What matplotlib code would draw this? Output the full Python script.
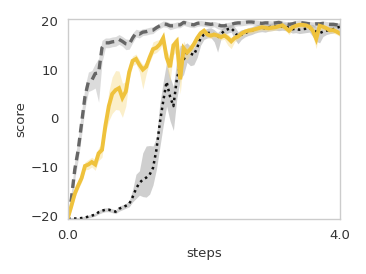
import numpy as np
import matplotlib
matplotlib.use("Agg")
import matplotlib.pyplot as plt

steps = [round(0.05 * i, 2) for i in range(81)]

dashed_mean = [-20, -16.5, -10.5, -6.5, -1, 4.5, 7.5, 7.8, 9.2, 9.3,
               14.5, 15.5, 15.5, 15.7, 15.8, 16.2, 15.8, 15.3, 15.2, 16.5,
               17.5, 17.3, 17.7, 17.8, 18.0, 18.1, 18.6, 19.0, 19.4, 19.3,
               19.0, 19.0, 19.2, 19.2, 19.7, 19.5, 19.3, 19.2, 19.5, 19.6,
               19.5, 19.4, 19.3, 19.4, 19.2, 19.0, 19.0, 19.2, 19.3, 19.5,
               19.6, 19.6, 19.7, 19.8, 19.8, 19.7, 19.6, 19.5, 19.6, 19.6,
               19.5, 19.6, 19.7, 19.5, 19.4, 19.3, 19.4, 19.6, 19.7, 19.6,
               19.5, 19.4, 19.3, 19.4, 19.4, 19.5, 19.4, 19.3, 19.3, 19.2, 19.1]
dashed_below = [0.5, 1.5, 2, 2, 2.5, 2.5, 2, 2, 3, 6,
                3, 1, 1, 1, 1, 1, 1, 1.2, 1, 1,
                0.8, 0.8, 0.7, 0.7, 0.7, 0.7, 0.6, 0.6, 0.6, 0.6,
                0.8, 0.6, 0.6, 0.6, 0.6, 0.6, 0.6, 0.6, 0.6, 0.6,
                0.6, 0.6, 0.6, 0.6, 0.8, 0.8, 0.6, 0.6, 0.6, 0.6,
                0.6, 0.6, 0.6, 0.6, 0.6, 0.6, 0.6, 0.6, 0.6, 0.6,
                0.6, 0.6, 0.6, 0.6, 0.6, 0.6, 0.6, 0.6, 0.6, 0.6,
                0.6, 0.6, 0.6, 0.6, 0.6, 0.6, 0.6, 0.6, 0.6, 0.6, 0.6]
dashed_above = [0.5, 1.5, 2, 2.5, 2.5, 2, 2, 2, 2, 3,
                1.5, 1, 1, 1, 1, 1, 1, 1, 1, 1,
                0.8, 0.8, 0.7, 0.7, 0.7, 0.7, 0.6, 0.6, 0.6, 0.6,
                0.6, 0.6, 0.6, 0.6, 0.5, 0.5, 0.5, 0.5, 0.5, 0.5,
                0.5, 0.5, 0.5, 0.5, 0.5, 0.5, 0.5, 0.5, 0.5, 0.5,
                0.5, 0.5, 0.5, 0.5, 0.5, 0.5, 0.5, 0.5, 0.5, 0.5,
                0.5, 0.5, 0.5, 0.5, 0.5, 0.5, 0.5, 0.5, 0.5, 0.5,
                0.5, 0.5, 0.5, 0.5, 0.5, 0.5, 0.5, 0.5, 0.5, 0.5, 0.5]

solid_mean = [-20.4, -18, -15.5, -13.8, -12.3, -9.8, -9.5, -9.0, -9.5, -7.2,
              -6.5, -1.5, 2.5, 5, 5.8, 6.2, 4.2, 5.5, 9.5, 11.8,
              12.2, 11, 10, 10.6, 12.5, 14.2, 14.5, 15.2, 16.5, 12.5,
              10.5, 15, 15.8, 8, 14.4, 13.5, 14.2, 15.2, 16.5, 17.5,
              18, 17.2, 17, 17.2, 17, 16.7, 17.0, 16.5, 15.8, 16.5,
              16.8, 17.4, 17.8, 18, 18.1, 18.3, 18.5, 18.7, 18.6, 18.5,
              18.6, 18.7, 18.9, 19.1, 18.6, 18.0, 18.7, 19.0, 19.2, 19.2,
              19.1, 18.8, 18.0, 16.3, 19.0, 18.8, 18.5, 18.1, 18.1, 17.8, 17.4]
solid_below = [0.3, 0.8, 0.8, 0.8, 0.8, 0.8, 1, 1, 1.2, 1.5,
               1.5, 1.5, 3, 4, 4, 4.5, 4, 3, 1.5, 1,
               1, 1.5, 4, 1.5, 1, 1, 1, 1, 1, 2,
               3, 2, 2, 3, 2, 1.5, 1, 0.8, 0.8, 0.6,
               0.6, 0.6, 0.6, 0.6, 0.6, 0.6, 0.8, 1.5, 1.5, 0.8,
               0.6, 0.6, 0.6, 0.6, 0.6, 0.6, 0.6, 0.6, 0.6, 0.6,
               0.6, 0.6, 0.6, 0.6, 0.6, 0.8, 0.6, 0.6, 0.6, 0.6,
               0.6, 0.6, 1, 2, 0.8, 0.6, 0.6, 0.6, 0.6, 0.6, 0.6]
solid_above = [0.3, 0.8, 0.8, 0.8, 0.8, 0.8, 1, 1, 1, 1.2,
               1.2, 1.5, 3, 3.5, 4, 3.5, 3, 2, 1.5, 1,
               1, 1, 1, 1, 1, 1.5, 1.5, 1, 1, 1.5,
               2, 1, 1, 4, 1.5, 1, 1, 0.8, 0.8, 0.6,
               0.6, 0.6, 0.6, 0.6, 0.6, 0.6, 0.6, 0.8, 0.8, 0.6,
               0.6, 0.6, 0.6, 0.6, 0.6, 0.6, 0.6, 0.6, 0.6, 0.6,
               0.6, 0.6, 0.6, 0.6, 0.6, 0.6, 0.6, 0.6, 0.6, 0.6,
               0.6, 0.6, 0.8, 1.5, 0.6, 0.6, 0.6, 0.6, 0.6, 0.6, 0.6]

dotted_mean = [-20.6, -20.6, -20.6, -20.6, -20.5, -20.4, -20.2, -20, -19.8, -19.3,
               -19, -18.8, -18.8, -19, -19.2, -18.6, -18.3, -18, -17.6, -16.2,
               -14.5, -13.3, -12.6, -12.2, -11.6, -10.2, -6.5, -1, 3.5, 7.5,
               4.5, 2.5, 8, 11, 12, 13.5, 13.3, 13, 14.5, 16.5,
               17.2, 17.5, 17.6, 17.2, 16.6, 17.3, 18, 18.3, 18.5, 17.8,
               16.8, 17.2, 17.5, 17.8, 18, 18.3, 18.5, 18.6, 18.5, 18.7,
               18.8, 18.9, 18.8, 18.9, 18.8, 18.6, 18.3, 18.4, 18.2, 18.3,
               18.4, 18.5, 18.3, 17.8, 17.5, 17.8, 18.0, 18.2, 18.3, 18.6, 18.8]
dotted_below = [0.2, 0.2, 0.2, 0.2, 0.2, 0.3, 0.3, 0.3, 0.3, 0.4,
                0.4, 0.4, 0.4, 0.4, 0.4, 0.5, 0.5, 0.5, 0.6, 1,
                2, 2.5, 3.5, 4, 4, 3.5, 4, 5, 5, 5,
                5, 5, 4, 3, 3, 2, 2.5, 2, 2, 1.5,
                1, 1, 1, 1.5, 3, 1, 0.8, 0.8, 0.8, 1.5,
                1.5, 1, 0.8, 0.8, 0.8, 0.8, 0.8, 0.8, 0.8, 0.8,
                0.8, 0.8, 0.8, 0.8, 0.8, 0.8, 0.8, 0.8, 0.8, 0.8,
                0.8, 0.8, 1.5, 2, 2, 1, 0.8, 0.8, 0.8, 0.8, 0.8]
dotted_above = [0.2, 0.2, 0.2, 0.2, 0.2, 0.3, 0.3, 0.3, 0.3, 0.4,
                0.4, 0.4, 0.4, 0.4, 0.4, 0.5, 0.5, 0.5, 0.6, 1.5,
                3, 2.5, 5.5, 6.5, 6, 4.5, 2.5, 4, 4, 4,
                4, 4, 4, 4, 3, 2, 1.5, 1.5, 1.5, 1,
                1, 1, 1, 1, 1, 1, 0.8, 0.8, 0.8, 1,
                1, 1, 0.8, 0.8, 0.8, 0.8, 0.8, 0.8, 0.8, 0.8,
                0.8, 0.8, 0.8, 0.8, 0.8, 0.8, 0.8, 0.8, 0.8, 0.8,
                0.8, 0.8, 1, 1, 1, 0.8, 0.8, 0.8, 0.8, 0.8, 0.8]

y_ticks = [-20, -10, 0, 10, 20]
x_ticks = [0.0, 4.0]

x = np.array(steps)
fig = plt.figure(figsize=(3.66, 2.74), dpi=100)
ax = fig.add_axes([68 / 366, 1 - 219 / 274, (340 - 68) / 366, (219 - 19) / 274])

def band(mean, below, above, color, alpha):
    m = np.array(mean)
    ax.fill_between(x, m - np.array(below), m + np.array(above),
                    color=color, alpha=alpha, linewidth=0)

band(dashed_mean, dashed_below, dashed_above, "#bfbfbf", 0.55)
band(dotted_mean, dotted_below, dotted_above, "#a8a8a8", 0.55)
band(solid_mean, solid_below, solid_above, "#f7dc8a", 0.45)

ax.plot(x, dashed_mean, color="#666666", lw=2.4, linestyle=(0, (2.6, 1.6)))
ax.plot(x, dotted_mean, color="#111111", lw=1.8, linestyle=(0, (1, 1.4)))
ax.plot(x, solid_mean, color="#efc23c", lw=2.8, solid_joinstyle="miter")

ax.set_xlim(0, 4.0)
ax.set_ylim(-20.7, 20.4)
ax.set_xticks(x_ticks)
ax.set_xticklabels([f"{v:.1f}" for v in x_ticks])
ax.set_yticks(y_ticks)
ax.set_yticklabels([f"{v}".replace("-", "\u2212") for v in y_ticks])
ax.tick_params(length=0, labelsize=9.5, colors="#333333", pad=7)
for s in ax.spines.values():
    s.set_color("#cccccc")
    s.set_linewidth(1.0)
ax.set_xlabel("steps", fontsize=9.5, color="#333333", labelpad=4)
ax.set_ylabel("score", fontsize=9.5, color="#333333", labelpad=2)

fig.savefig("out.png", dpi=100)
